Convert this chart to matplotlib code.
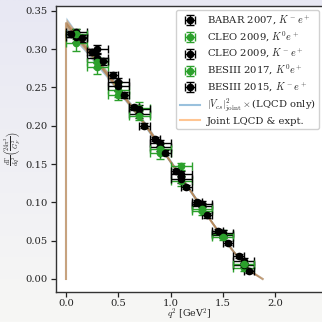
import numpy as np
import matplotlib
matplotlib.use("Agg")
import matplotlib.pyplot as plt

plt.rcParams['font.family'] = ['DejaVu Serif']
plt.rcParams['mathtext.fontset'] = 'cm'

# ---- data ----
babar_q2 = [0.1, 0.3, 0.5, 0.7, 0.9, 1.1, 1.3, 1.5, 1.7]
babar_y = [0.322, 0.300, 0.257, 0.215, 0.178, 0.137, 0.098, 0.057, 0.024]
babar_yerr = [0.005, 0.005, 0.005, 0.005, 0.004, 0.004, 0.004, 0.003, 0.003]

cleo0_q2 = [0.1, 0.3, 0.5, 0.7, 0.9, 1.1, 1.3, 1.5, 1.7]
cleo0_y = [0.308, 0.277, 0.247, 0.223, 0.164, 0.128, 0.089, 0.059, 0.014]
cleo0_yerr = [0.010, 0.009, 0.009, 0.008, 0.008, 0.007, 0.006, 0.005, 0.004]

cleom_q2 = [0.1, 0.3, 0.5, 0.7, 0.9, 1.1, 1.3, 1.5, 1.7]
cleom_y = [0.316, 0.288, 0.252, 0.222, 0.172, 0.130, 0.095, 0.060, 0.018]
cleom_yerr = [0.006, 0.006, 0.006, 0.005, 0.005, 0.005, 0.004, 0.004, 0.003]

bes17_q2 = [0.1, 0.3, 0.5, 0.7, 0.9, 1.1, 1.3, 1.5, 1.7]
bes17_y = [0.320, 0.283, 0.240, 0.213, 0.170, 0.147, 0.092, 0.055, 0.020]
bes17_yerr = [0.007, 0.007, 0.006, 0.006, 0.006, 0.005, 0.005, 0.004, 0.003]

bes15_q2 = [0.05, 0.15, 0.25, 0.35, 0.45, 0.55, 0.65, 0.75, 0.85,
            0.95, 1.05, 1.15, 1.25, 1.35, 1.45, 1.55, 1.65, 1.75]
bes15_y = [0.320, 0.314, 0.296, 0.284, 0.266, 0.240, 0.224, 0.200, 0.183,
           0.165, 0.141, 0.120, 0.100, 0.083, 0.063, 0.047, 0.030, 0.010]
bes15_yerr = [0.004, 0.004, 0.004, 0.004, 0.004, 0.004, 0.003, 0.003, 0.003,
              0.003, 0.003, 0.003, 0.003, 0.003, 0.002, 0.002, 0.002, 0.002]

curve_q2 = [0.0, 0.0, 0.1, 0.2, 0.3, 0.4, 0.5, 0.6, 0.7, 0.8, 0.9, 1.0,
            1.1, 1.2, 1.3, 1.4, 1.5, 1.6, 1.7, 1.8, 1.88]
lqcd_y = [0.0, 0.334, 0.316, 0.300, 0.283, 0.266, 0.248, 0.230, 0.212, 0.193,
          0.173, 0.153, 0.133, 0.113, 0.093, 0.073, 0.054, 0.036, 0.020, 0.007, 0.0]
lqcd_err = [0.0, 0.008, 0.007, 0.006, 0.006, 0.005, 0.005, 0.004, 0.004, 0.004,
            0.003, 0.003, 0.003, 0.003, 0.002, 0.002, 0.002, 0.002, 0.001, 0.001, 0.0]
joint_y = [0.0, 0.334, 0.317, 0.300, 0.284, 0.266, 0.248, 0.230, 0.212, 0.193,
           0.173, 0.153, 0.133, 0.113, 0.093, 0.073, 0.054, 0.036, 0.020, 0.007, 0.0]
joint_err = [0.0, 0.006, 0.005, 0.005, 0.004, 0.004, 0.004, 0.003, 0.003, 0.003,
             0.003, 0.002, 0.002, 0.002, 0.002, 0.002, 0.001, 0.001, 0.001, 0.001, 0.0]

labels = ["BABAR 2007, $K^-e^+$", "CLEO 2009, $K^0e^+$", "CLEO 2009, $K^-e^+$",
          "BESIII 2017, $K^0e^+$", "BESIII 2015, $K^-e^+$",
          r"$|V_{cs}|^2_{\rm joint}\times$(LQCD only)", "Joint LQCD & expt."]

# ---- figure ----
fig = plt.figure(figsize=(3.22, 3.22), dpi=100)
bg = fig.add_axes([0, 0, 1, 1], zorder=-5)
grad = np.linspace(0, 1, 256).reshape(-1, 1)
c_top = np.array([232, 232, 243]) / 255
c_bot = np.array([247, 247, 245]) / 255
img = c_top[None, None, :] * (1 - grad[:, :, None]) + c_bot[None, None, :] * grad[:, :, None]
bg.imshow(img, aspect='auto', extent=[0, 1, 0, 1])
bg.axis('off')

W = 322.0
ax = fig.add_axes([56 / W, (W - 291.7) / W, (323 - 56) / W, (291.7 - 6) / W])
ax.set_facecolor('white')

q = np.array(curve_q2)
lq = np.array(lqcd_y); le = np.array(lqcd_err)
jq = np.array(joint_y); je = np.array(joint_err)
ax.fill_between(q, lq - le, lq + le, color='tab:blue', alpha=0.4, lw=0)
ax.fill_between(q, jq - je, jq + je, color='tab:orange', alpha=0.4, lw=0)
l1, = ax.plot(q, lq, color='tab:blue', alpha=0.45, lw=1.5, label=labels[5])
l2, = ax.plot(q, jq, color='tab:orange', alpha=0.45, lw=1.5, label=labels[6])

kw = dict(fmt='o', ms=4.5, capsize=2.8, elinewidth=1.0, capthick=1.0)
e1 = ax.errorbar(babar_q2, babar_y, yerr=babar_yerr, xerr=0.1, color='black', **kw)
e2 = ax.errorbar(cleo0_q2, cleo0_y, yerr=cleo0_yerr, xerr=0.1, color='tab:green', **kw)
e3 = ax.errorbar(cleom_q2, cleom_y, yerr=cleom_yerr, xerr=0.1, color='black', **kw)
e4 = ax.errorbar(bes17_q2, bes17_y, yerr=bes17_yerr, xerr=0.1, color='tab:green', **kw)
e5 = ax.errorbar(bes15_q2, bes15_y, yerr=bes15_yerr, xerr=0.05, color='black', **kw)

ax.set_xlim(-0.0956, 2.457)
ax.set_ylim(-0.0166, 0.3564)
ax.set_xticks([0.0, 0.5, 1.0, 1.5, 2.0])
ax.set_yticks([0.0, 0.05, 0.10, 0.15, 0.20, 0.25, 0.30, 0.35])
ax.tick_params(labelsize=7.2, length=3.5, width=0.9, color='#222222', labelcolor='#222222', pad=2.5)
ax.tick_params(axis='x', pad=1.5)
for s in ax.spines.values():
    s.set_color('#333333')
    s.set_linewidth(1.0)

ax.set_xlabel(r"$q^2$ [GeV$^2$]", fontsize=6.8, color='#222222')
ax.xaxis.set_label_coords(0.5, -0.052)
ax.set_ylabel(r"$\frac{d\Gamma}{dq^2}\left(\frac{24\pi^3}{G_F^2}\right)$", fontsize=6.5,
              color='#222222')
ax.yaxis.set_label_coords(-0.128, 0.5)

leg = ax.legend([e1, e2, e3, e4, e5, l1, l2], labels, loc='upper right', fontsize=7.2,
                frameon=True, fancybox=True, framealpha=0.9, edgecolor='#cccccc',
                handlelength=2.0, handletextpad=0.7, borderpad=0.35, labelspacing=0.3,
                borderaxespad=0.4)
for t in leg.get_texts():
    t.set_color('#222222')

fig.savefig('out.png', dpi=100)
